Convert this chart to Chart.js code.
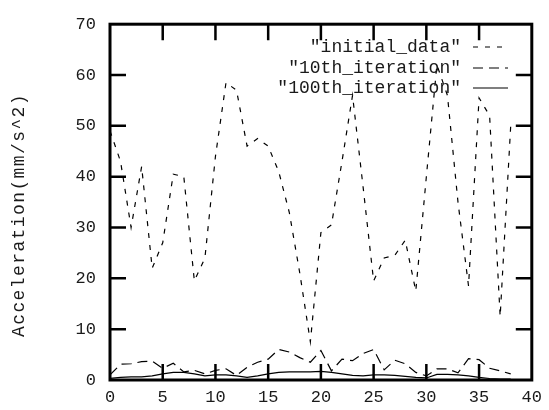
<!DOCTYPE html>
<html lang="en">
<head>
<meta charset="UTF-8">
<title>Acceleration</title>
<style>
  html, body { margin: 0; padding: 0; background: #fff; }
  #wrap { width: 549px; height: 410px; }
</style>
</head>
<body>
<div id="wrap"><canvas id="chart"></canvas></div>

<script src="https://cdn.jsdelivr.net/npm/chart.js"></script>
<script>
// sample index 0..38
const steps = [0,1,2,3,4,5,6,7,8,9,10,11,12,13,14,15,16,17,18,19,20,
  21,22,23,24,25,26,27,28,29,30,31,32,33,34,35,36,37,38];

const initialData = [49, 43, 30, 42, 22, 27, 40.5, 40, 19.5, 24, 44, 58.5, 57, 46, 47.5, 46, 41, 33, 21, 7.5,
  29, 30.5, 43, 56, 38, 19.5, 24, 24.5, 27.5, 17.5, 40, 62, 56, 35, 18.5, 55.5, 52, 12.5, 50];

const iter10 = [1.0, 3.1, 3.2, 3.6, 3.7, 2.3, 3.3, 1.6, 1.9, 1.2, 1.9, 2.2, 0.9, 2.5, 3.5, 4.1, 6.0, 5.5, 4.4, 3.5,
  5.8, 1.8, 4.1, 3.8, 5.2, 6.0, 2.0, 3.9, 3.2, 1.5, 0.8, 2.2, 2.2, 1.4, 4.2, 4.0, 2.3, 1.8, 1.2];

const iter100 = [0.3, 0.5, 0.6, 0.6, 0.8, 1.2, 1.5, 1.5, 1.2, 0.8, 1.0, 1.0, 0.8, 0.5, 0.8, 1.2, 1.5, 1.6, 1.6, 1.6,
  1.7, 1.5, 1.2, 0.9, 0.8, 1.0, 1.0, 0.9, 0.7, 0.5, 0.4, 1.1, 1.1, 1.0, 0.8, 0.5, 0.3, 0.2, 0.2];

const xTicks = [0, 5, 10, 15, 20, 25, 30, 35, 40];
const yTicks = [0, 10, 20, 30, 40, 50, 60, 70];

const seriesNames = ['"initial_data"', '"10th_iteration"', '"100th_iteration"'];
const yTitle = 'Acceleration(mm/s^2)';

const FONT = 'Liberation Mono';
const INK = '#1a1a1a';

const pts = arr => steps.map((s, i) => ({ x: s, y: arr[i] }));

// frame with inward ticks on all four sides (gnuplot style)
const frame = {
  id: 'frame',
  afterDatasetsDraw(chart) {
    const { ctx, chartArea: a, scales: { x, y } } = chart;
    ctx.save();
    ctx.strokeStyle = '#000';
    ctx.lineWidth = 2.5;
    ctx.beginPath();
    xTicks.slice(1, -1).forEach(v => {
      const px = x.getPixelForValue(v);
      ctx.moveTo(px, a.bottom); ctx.lineTo(px, a.bottom - 16);
      ctx.moveTo(px, a.top); ctx.lineTo(px, a.top + 16);
    });
    yTicks.slice(1, -1).forEach(v => {
      const py = y.getPixelForValue(v);
      ctx.moveTo(a.left, py); ctx.lineTo(a.left + 16, py);
      ctx.moveTo(a.right, py); ctx.lineTo(a.right - 16, py);
    });
    ctx.stroke();
    ctx.lineWidth = 3;
    ctx.strokeRect(a.left, a.top, a.right - a.left, a.bottom - a.top);
    ctx.restore();
  }
};

// key in the upper right, text right aligned and line sample after it
const key = {
  id: 'key',
  afterDatasetsDraw(chart) {
    const { ctx } = chart;
    const rows = [47, 68, 88];
    ctx.save();
    ctx.font = '18px "' + FONT + '"';
    ctx.textAlign = 'right';
    ctx.textBaseline = 'middle';
    ctx.fillStyle = INK;
    chart.data.datasets.forEach((ds, i) => {
      ctx.fillText(seriesNames[i], 461, rows[i]);
      ctx.strokeStyle = '#000';
      ctx.lineWidth = ds.borderWidth;
      ctx.setLineDash(ds.borderDash || []);
      ctx.beginPath();
      ctx.moveTo(473, rows[i]);
      ctx.lineTo(508, rows[i]);
      ctx.stroke();
    });
    ctx.restore();
  }
};

// rotated y title, a bit more spread out than the tick labels
const sideTitle = {
  id: 'sideTitle',
  afterDraw(chart) {
    const { ctx } = chart;
    ctx.save();
    ctx.translate(19, 215);
    ctx.rotate(-Math.PI / 2);
    ctx.font = '18px "' + FONT + '"';
    if ('letterSpacing' in ctx) ctx.letterSpacing = '1.4px';
    ctx.textAlign = 'center';
    ctx.textBaseline = 'middle';
    ctx.fillStyle = INK;
    ctx.fillText(yTitle, 0, 0);
    ctx.restore();
  }
};

new Chart(document.getElementById('chart'), {
  type: 'line',
  data: {
    datasets: [
      { label: seriesNames[0], data: pts(initialData), borderColor: '#000', borderWidth: 1.2, borderDash: [5, 7], pointRadius: 0, tension: 0, fill: false },
      { label: seriesNames[1], data: pts(iter10), borderColor: '#000', borderWidth: 1.2, borderDash: [10, 6], pointRadius: 0, tension: 0, fill: false },
      { label: seriesNames[2], data: pts(iter100), borderColor: '#000', borderWidth: 1.2, pointRadius: 0, tension: 0, fill: false }
    ]
  },
  options: {
    responsive: true,
    maintainAspectRatio: false,
    animation: false,
    devicePixelRatio: 1,
    layout: { padding: { left: 0, right: 14, top: 15, bottom: 0 } },
    plugins: {
      legend: { display: false },
      tooltip: { enabled: false }
    },
    scales: {
      x: {
        type: 'linear',
        min: 0,
        max: 40,
        grid: { display: false, drawTicks: false },
        border: { display: false },
        ticks: { stepSize: 5, padding: 7, color: INK, font: { family: FONT, size: 17 } },
        afterFit(s) { s.height = 30; }
      },
      y: {
        min: 0,
        max: 70,
        grid: { display: false, drawTicks: false },
        border: { display: false },
        ticks: { stepSize: 10, padding: 14, color: INK, font: { family: FONT, size: 17 } },
        afterFit(s) { s.width = 110; }
      }
    }
  },
  plugins: [frame, key, sideTitle]
});
</script>
</body>
</html>
